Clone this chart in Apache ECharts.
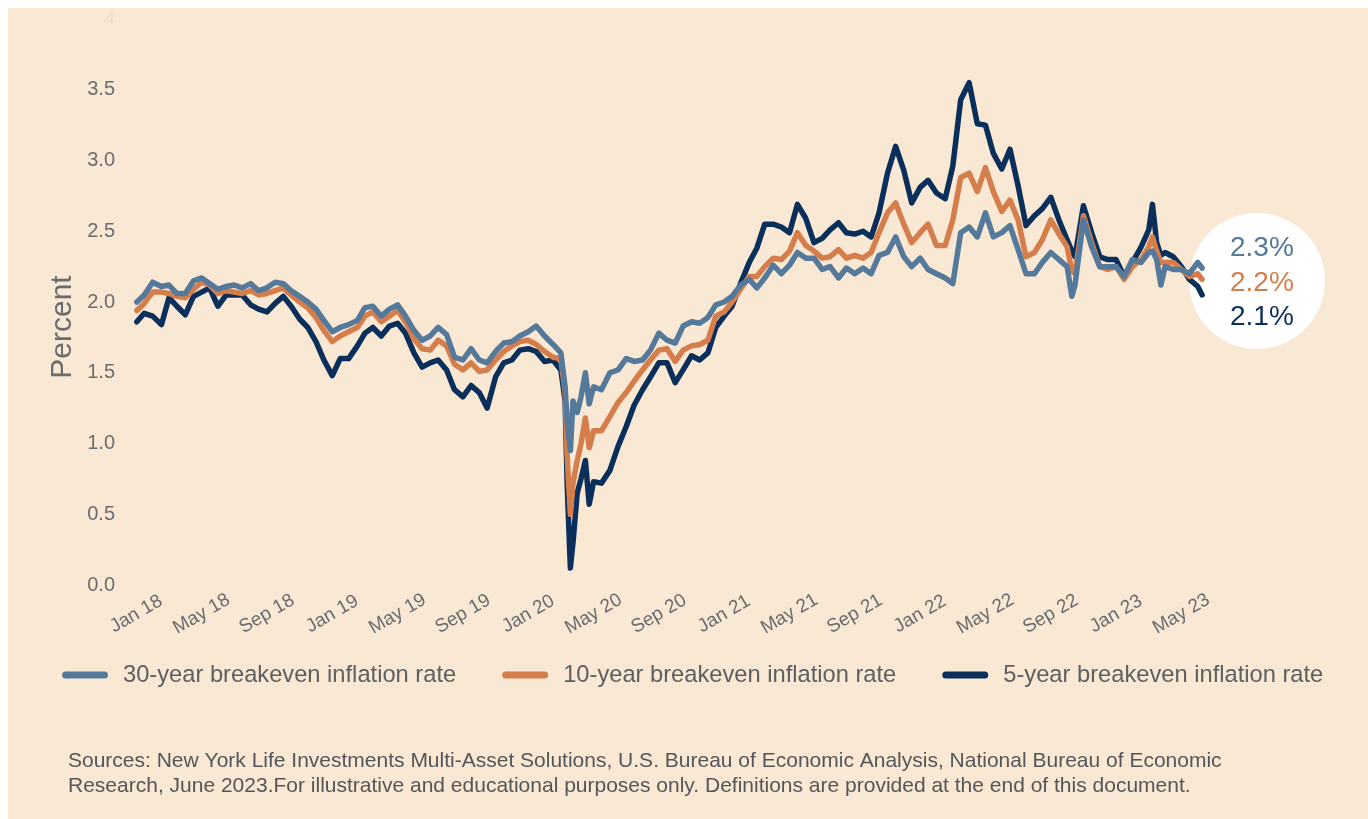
<!DOCTYPE html>
<html>
<head>
<meta charset="utf-8">
<title>Breakeven inflation rates</title>
<script src="https://cdn.jsdelivr.net/npm/echarts@6/dist/echarts.min.js"></script>
<style>
  html, body { margin: 0; padding: 0; background: #ffffff; }
  #bg { position: absolute; left: 8px; top: 8px; width: 1360px; height: 811px; background: #f9e8d4; }
  #chart { position: absolute; left: 0; top: 0; width: 1368px; height: 819px; }
</style>
</head>
<body>
<div id="bg"></div>
<div id="chart"></div>
<script>
// sample dates (roughly twice a month, denser around the March 2020 crash)
const dates = [
  '2018-01-02', '2018-01-16', '2018-02-01', '2018-02-16', '2018-03-01', '2018-03-16', '2018-04-01', '2018-04-16',
  '2018-05-01', '2018-05-16', '2018-06-01', '2018-06-16', '2018-07-01', '2018-07-16', '2018-08-01', '2018-08-16',
  '2018-09-01', '2018-09-16', '2018-10-01', '2018-10-16', '2018-11-01', '2018-11-16', '2018-12-01', '2018-12-16',
  '2019-01-01', '2019-01-16', '2019-02-01', '2019-02-16', '2019-03-01', '2019-03-16', '2019-04-01', '2019-04-16',
  '2019-05-01', '2019-05-16', '2019-06-01', '2019-06-16', '2019-07-01', '2019-07-16', '2019-08-01', '2019-08-16',
  '2019-09-01', '2019-09-16', '2019-10-01', '2019-10-16', '2019-11-01', '2019-11-16', '2019-12-01', '2019-12-16',
  '2020-01-01', '2020-01-16', '2020-02-01', '2020-02-16', '2020-03-01', '2020-03-09', '2020-03-13', '2020-03-19',
  '2020-03-24', '2020-04-01', '2020-04-08', '2020-04-16', '2020-04-23', '2020-05-01', '2020-05-16', '2020-06-01',
  '2020-06-16', '2020-07-01', '2020-07-16', '2020-08-01', '2020-08-16', '2020-09-01', '2020-09-16', '2020-10-01',
  '2020-10-16', '2020-11-01', '2020-11-16', '2020-12-01', '2020-12-16', '2021-01-01', '2021-01-16', '2021-02-01',
  '2021-02-16', '2021-03-01', '2021-03-16', '2021-04-01', '2021-04-16', '2021-05-01', '2021-05-16', '2021-06-01',
  '2021-06-16', '2021-07-01', '2021-07-16', '2021-08-01', '2021-08-16', '2021-09-01', '2021-09-16', '2021-10-01',
  '2021-10-16', '2021-11-01', '2021-11-16', '2021-12-01', '2021-12-16', '2022-01-01', '2022-01-16', '2022-02-01',
  '2022-02-16', '2022-03-01', '2022-03-16', '2022-04-01', '2022-04-16', '2022-05-01', '2022-05-16', '2022-06-01',
  '2022-06-16', '2022-07-01', '2022-07-16', '2022-08-01', '2022-08-16', '2022-09-01', '2022-09-16', '2022-10-01',
  '2022-10-10', '2022-10-16', '2022-11-01', '2022-11-16', '2022-12-01', '2022-12-16', '2023-01-01', '2023-01-16',
  '2023-02-01', '2023-02-16', '2023-03-01', '2023-03-08', '2023-03-16', '2023-03-24', '2023-04-01', '2023-04-16',
  '2023-05-01', '2023-05-16', '2023-06-01', '2023-06-09'
];

const rate30 = [
  2.00, 2.05, 2.14, 2.11, 2.12, 2.06, 2.06, 2.15,
  2.17, 2.13, 2.09, 2.11, 2.12, 2.10, 2.13, 2.08,
  2.10, 2.14, 2.13, 2.08, 2.04, 2.00, 1.95, 1.87,
  1.79, 1.82, 1.84, 1.87, 1.96, 1.97, 1.90, 1.95,
  1.98, 1.90, 1.80, 1.73, 1.76, 1.82, 1.77, 1.61,
  1.59, 1.67, 1.59, 1.57, 1.65, 1.71, 1.72, 1.76,
  1.79, 1.83, 1.76, 1.70, 1.64, 1.40, 1.15, 0.95,
  1.30, 1.22, 1.33, 1.50, 1.28, 1.40, 1.38, 1.50,
  1.52, 1.60, 1.58, 1.59, 1.66, 1.78, 1.73, 1.71,
  1.83, 1.86, 1.85, 1.89, 1.98, 2.00, 2.04, 2.12,
  2.16, 2.10, 2.17, 2.26, 2.20, 2.26, 2.35, 2.31,
  2.31, 2.23, 2.25, 2.17, 2.24, 2.20, 2.24, 2.20,
  2.33, 2.35, 2.46, 2.32, 2.25, 2.31, 2.23, 2.20,
  2.17, 2.13, 2.49, 2.53, 2.46, 2.63, 2.46, 2.49,
  2.54, 2.37, 2.20, 2.20, 2.28, 2.35, 2.30, 2.25,
  2.04, 2.12, 2.58, 2.39, 2.25, 2.25, 2.25, 2.18,
  2.30, 2.28, 2.35, 2.36, 2.30, 2.12, 2.25, 2.23,
  2.23, 2.20, 2.28, 2.24
];

const rate10 = [
  1.94, 1.99, 2.07, 2.07, 2.06, 2.04, 2.03, 2.09,
  2.14, 2.12, 2.06, 2.08, 2.07, 2.06, 2.08, 2.05,
  2.06, 2.08, 2.10, 2.05, 2.00, 1.96, 1.89, 1.80,
  1.72, 1.76, 1.79, 1.82, 1.90, 1.93, 1.86, 1.90,
  1.94, 1.86, 1.74, 1.67, 1.66, 1.73, 1.69, 1.56,
  1.52, 1.57, 1.51, 1.52, 1.59, 1.65, 1.69, 1.72,
  1.73, 1.70, 1.65, 1.61, 1.60, 1.36, 0.90, 0.50,
  0.72, 0.88, 1.00, 1.18, 0.97, 1.09, 1.09, 1.19,
  1.29, 1.36, 1.44, 1.52, 1.59, 1.66, 1.67, 1.58,
  1.66, 1.69, 1.70, 1.73, 1.90, 1.93, 2.00, 2.09,
  2.18, 2.18, 2.25, 2.31, 2.30, 2.36, 2.49, 2.40,
  2.36, 2.31, 2.32, 2.37, 2.31, 2.33, 2.31, 2.35,
  2.49, 2.63, 2.70, 2.55, 2.42, 2.49, 2.55, 2.40,
  2.40, 2.58, 2.88, 2.91, 2.78, 2.95, 2.78, 2.64,
  2.72, 2.58, 2.32, 2.35, 2.44, 2.58, 2.48, 2.39,
  2.22, 2.20, 2.61, 2.42, 2.25, 2.23, 2.25, 2.16,
  2.25, 2.30, 2.39, 2.46, 2.36, 2.28, 2.28, 2.28,
  2.23, 2.18, 2.20, 2.16
];

const rate5 = [
  1.86, 1.92, 1.90, 1.84, 2.03, 1.97, 1.91, 2.04,
  2.07, 2.10, 1.97, 2.05, 2.05, 2.05, 1.98, 1.95,
  1.93, 1.99, 2.04, 1.97, 1.88, 1.82, 1.72, 1.59,
  1.48, 1.60, 1.60, 1.69, 1.78, 1.82, 1.76, 1.83,
  1.85, 1.78, 1.64, 1.54, 1.57, 1.59, 1.52, 1.38,
  1.33, 1.41, 1.36, 1.25, 1.47, 1.57, 1.59, 1.66,
  1.67, 1.65, 1.58, 1.59, 1.52, 1.30, 0.70, 0.12,
  0.30, 0.65, 0.75, 0.88, 0.57, 0.73, 0.72, 0.81,
  0.98, 1.12, 1.27, 1.38, 1.47, 1.57, 1.57, 1.43,
  1.52, 1.62, 1.59, 1.64, 1.82, 1.90, 1.97, 2.13,
  2.28, 2.38, 2.55, 2.55, 2.53, 2.49, 2.69, 2.59,
  2.42, 2.45, 2.51, 2.56, 2.49, 2.48, 2.50, 2.46,
  2.63, 2.91, 3.10, 2.93, 2.70, 2.81, 2.86, 2.77,
  2.73, 2.96, 3.43, 3.55, 3.26, 3.25, 3.05, 2.94,
  3.08, 2.82, 2.54, 2.61, 2.66, 2.74, 2.58, 2.44,
  2.36, 2.32, 2.68, 2.49, 2.32, 2.30, 2.30, 2.18,
  2.28, 2.39, 2.51, 2.69, 2.42, 2.33, 2.35, 2.32,
  2.25, 2.16, 2.11, 2.05
];

const xTickLabels = [
  'Jan 18', 'May 18', 'Sep 18', 'Jan 19', 'May 19', 'Sep 19', 'Jan 20', 'May 20', 'Sep 20',
  'Jan 21', 'May 21', 'Sep 21', 'Jan 22', 'May 22', 'Sep 22', 'Jan 23', 'May 23'
];
const seriesNames = ['30-year breakeven inflation rate', '10-year breakeven inflation rate', '5-year breakeven inflation rate'];
const endLabels = ['2.3%', '2.2%', '2.1%'];

const C30 = '#54799a';
const C10 = '#d57e4b';
const C5 = '#0b2f5b';
const TEXT = '#5e5f61';
const FONT = 'Liberation Sans, Arial, sans-serif';

// months since Jan 2018, fractional by day
function monthIndex(d) {
  const [y, m, day] = d.split('-').map(Number);
  const dim = new Date(y, m, 0).getDate();
  return (y - 2018) * 12 + (m - 1) + (day - 1) / dim;
}
const xs = dates.map(monthIndex);
const pairs = (vals) => vals.map((v, i) => [xs[i], v]);

const chart = echarts.init(document.getElementById('chart'));

function line(name, vals, color) {
  return {
    name,
    type: 'line',
    data: pairs(vals),
    showSymbol: false,
    animation: false,
    itemStyle: { color },
    lineStyle: { color, width: 5.5, join: 'round', cap: 'round' },
  };
}

chart.setOption({
  backgroundColor: 'transparent',
  textStyle: { fontFamily: FONT },
  grid: { left: 120, right: 137.6, top: 19, bottom: 234 },
  xAxis: {
    type: 'value',
    min: -1,
    max: 67,
    axisLine: { show: false },
    axisTick: { show: false },
    splitLine: { show: false },
    axisLabel: {
      customValues: xTickLabels.map((_, i) => i * 4),
      formatter: (v) => xTickLabels[Math.round(v / 4)],
      rotate: 30,
      align: 'center',
      verticalAlign: 'middle',
      margin: 29,
      fontSize: 19,
      color: '#6b6c6f',
      fontFamily: FONT,
    },
  },
  yAxis: {
    type: 'value',
    min: 0,
    max: 4,
    interval: 0.5,
    axisLine: { show: false },
    axisTick: { show: false },
    splitLine: { show: false },
    axisLabel: {
      margin: 5,
      fontSize: 20,
      color: '#6b6c6f',
      fontFamily: FONT,
      formatter: (v) => (v === 4 ? '{faint|4}' : v.toFixed(1)),
      rich: { faint: { color: '#f1dac6', fontSize: 20, fontFamily: FONT } },
    },
  },
  legend: {
    data: seriesNames,
    left: 57,
    top: 658,
    icon: 'path://M3.5,0 L42.5,0 A3.5,3.5 0 0 1 42.5,7 L3.5,7 A3.5,3.5 0 0 1 3.5,0 Z',
    itemWidth: 46,
    itemHeight: 7,
    itemGap: 46,
    selectedMode: false,
    textStyle: { fontSize: 23.7, color: TEXT, fontFamily: FONT, padding: [0, 0, 0, 10] },
  },
  title: {
    left: 63,
    top: 744,
    text: 'Sources: New York Life Investments Multi-Asset Solutions, U.S. Bureau of Economic Analysis, National Bureau of Economic\nResearch, June 2023.For illustrative and educational purposes only. Definitions are provided at the end of this document.',
    textStyle: { fontSize: 21, fontWeight: 'normal', color: '#555658', lineHeight: 25, fontFamily: FONT },
  },
  graphic: [
    {
      type: 'text',
      x: 63,
      y: 327,
      rotation: Math.PI / 2,
      style: { text: 'Percent', font: '30px ' + FONT, fill: '#6b6c6f', align: 'center', verticalAlign: 'middle' },
    },
    { type: 'circle', shape: { cx: 1257, cy: 281, r: 68 }, style: { fill: '#ffffff' }, z: 0 },
    { type: 'text', x: 1230, y: 248, style: { text: endLabels[0], font: '28px ' + FONT, fill: C30, verticalAlign: 'middle' } },
    { type: 'text', x: 1230, y: 283, style: { text: endLabels[1], font: '28px ' + FONT, fill: C10, verticalAlign: 'middle' } },
    { type: 'text', x: 1230, y: 317, style: { text: endLabels[2], font: '28px ' + FONT, fill: C5, verticalAlign: 'middle' } },
  ],
  series: [
    line(seriesNames[2], rate5, C5),
    line(seriesNames[1], rate10, C10),
    line(seriesNames[0], rate30, C30),
  ],
});
</script>
</body>
</html>
